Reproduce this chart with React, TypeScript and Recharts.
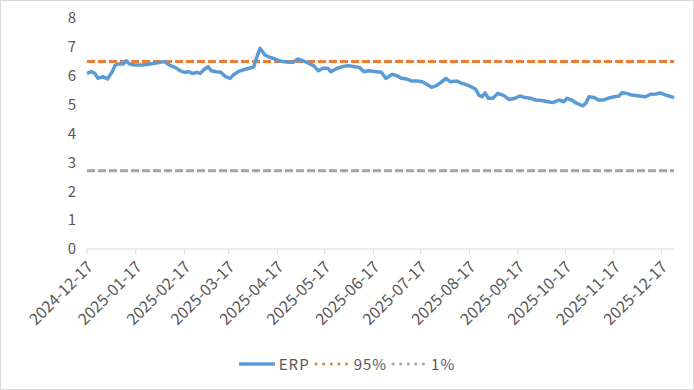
import { Line, LineChart, XAxis, YAxis } from "recharts";

// ERP readings (calendar dates)
const dates = [
  "2024-12-17", "2024-12-20", "2024-12-22", "2024-12-24", "2024-12-27", "2024-12-30",
  "2025-01-02", "2025-01-04", "2025-01-06", "2025-01-09", "2025-01-11", "2025-01-13",
  "2025-01-16", "2025-01-21", "2025-01-25", "2025-01-29", "2025-02-04", "2025-02-08",
  "2025-02-11", "2025-02-14", "2025-02-17", "2025-02-20", "2025-02-22", "2025-02-25",
  "2025-02-27", "2025-03-01", "2025-03-04", "2025-03-06", "2025-03-09", "2025-03-12",
  "2025-03-15", "2025-03-18", "2025-03-20", "2025-03-23", "2025-03-26", "2025-03-30",
  "2025-04-02", "2025-04-04", "2025-04-06", "2025-04-09", "2025-04-12", "2025-04-16",
  "2025-04-20", "2025-04-24", "2025-04-27", "2025-04-30", "2025-05-03", "2025-05-07",
  "2025-05-10", "2025-05-13", "2025-05-16", "2025-05-19", "2025-05-21", "2025-05-25",
  "2025-05-28", "2025-06-01", "2025-06-05", "2025-06-08", "2025-06-11", "2025-06-14",
  "2025-06-19", "2025-06-22", "2025-06-25", "2025-06-29", "2025-07-02", "2025-07-05",
  "2025-07-08", "2025-07-11", "2025-07-15", "2025-07-18", "2025-07-21", "2025-07-24",
  "2025-07-27", "2025-07-30", "2025-08-02", "2025-08-05", "2025-08-09", "2025-08-12",
  "2025-08-14", "2025-08-18", "2025-08-21", "2025-08-23", "2025-08-25", "2025-08-27",
  "2025-08-29", "2025-09-01", "2025-09-04", "2025-09-08", "2025-09-11", "2025-09-15",
  "2025-09-18", "2025-09-21", "2025-09-25", "2025-09-28", "2025-10-02", "2025-10-06",
  "2025-10-09", "2025-10-13", "2025-10-16", "2025-10-18", "2025-10-21", "2025-10-24",
  "2025-10-28", "2025-10-30", "2025-11-01", "2025-11-04", "2025-11-07", "2025-11-10",
  "2025-11-13", "2025-11-17", "2025-11-20", "2025-11-22", "2025-11-25", "2025-11-28",
  "2025-12-03", "2025-12-07", "2025-12-10", "2025-12-14", "2025-12-16", "2025-12-20",
  "2025-12-25",
];

const erp = [
  6.08, 6.14, 6.08, 5.91, 5.97, 5.89,
  6.14, 6.37, 6.41, 6.41, 6.52, 6.41,
  6.37, 6.37, 6.40, 6.43, 6.49, 6.35,
  6.29, 6.18, 6.12, 6.14, 6.08, 6.12,
  6.08, 6.20, 6.31, 6.17, 6.14, 6.12,
  5.97, 5.91, 6.03, 6.14, 6.20, 6.26,
  6.31, 6.66, 6.95, 6.72, 6.64, 6.57,
  6.49, 6.47, 6.47, 6.58, 6.52, 6.43,
  6.35, 6.17, 6.26, 6.26, 6.14, 6.26,
  6.31, 6.35, 6.31, 6.29, 6.14, 6.17,
  6.14, 6.12, 5.91, 6.05, 6.00, 5.91,
  5.89, 5.82, 5.82, 5.79, 5.70, 5.60,
  5.66, 5.77, 5.91, 5.79, 5.82, 5.74,
  5.71, 5.62, 5.53, 5.33, 5.27, 5.41,
  5.22, 5.22, 5.39, 5.31, 5.18, 5.22,
  5.30, 5.25, 5.22, 5.16, 5.14, 5.10,
  5.07, 5.16, 5.10, 5.22, 5.16, 5.05,
  4.96, 5.05, 5.27, 5.25, 5.16, 5.16,
  5.22, 5.27, 5.30, 5.41, 5.39, 5.33,
  5.30, 5.27, 5.36, 5.37, 5.41, 5.33,
  5.24,
];

const pct95 = 6.49;
const pct1 = 2.71;

const monthTicks = [
  "2024-12-17", "2025-01-17", "2025-02-17", "2025-03-17", "2025-04-17",
  "2025-05-17", "2025-06-17", "2025-07-17", "2025-08-17", "2025-09-17",
  "2025-10-17", "2025-11-17", "2025-12-17",
];
const yTicks = [0, 1, 2, 3, 4, 5, 6, 7, 8];

const DAY = 86400000;
const start = Date.parse(dates[0]);
const toDay = (s: string) => Math.round((Date.parse(s) - start) / DAY);
const dayToLabel = new Map(monthTicks.map((t) => [toDay(t), t]));

const data = dates.map((d, i) => ({
  day: toDay(d),
  erp: erp[i],
  p95: pct95,
  p1: pct1,
}));

const TEXT = "#595959";
const FONT = '"Noto Sans CJK SC", "Noto Sans", sans-serif';

function DateTick({ x, y, payload }: any) {
  return (
    <g transform={`translate(${x + 7},${y + 12})`}>
      <text
        x={0}
        y={0}
        textAnchor="end"
        fill={TEXT}
        fontSize={16}
        fontFamily={FONT}
        transform="rotate(-45)"
      >
        {dayToLabel.get(payload.value)}
      </text>
    </g>
  );
}

function LegendItem({ color, dotted, label }: { color: string; dotted: boolean; label: string }) {
  return (
    <div style={{ display: "flex", alignItems: "center", gap: 4 }}>
      <svg width={36} height={6}>
        {dotted ? (
          <line x1={2} y1={3} x2={34} y2={3} stroke={color} strokeWidth={3}
            strokeDasharray="0.1 7.5" strokeLinecap="round" />
        ) : (
          <line x1={0} y1={3} x2={36} y2={3} stroke={color} strokeWidth={3.5} />
        )}
      </svg>
      <span style={{ letterSpacing: 1 }}>{label}</span>
    </div>
  );
}

export default function App() {
  return (
    <div
      style={{
        position: "absolute",
        left: 0,
        top: 0,
        width: 694,
        height: 390,
        boxSizing: "border-box",
        border: "1px solid #d9d9d9",
        background: "#fff",
        fontFamily: FONT,
      }}
    >
      <LineChart
        width={692}
        height={388}
        data={data}
        margin={{ top: 17, right: 19, left: 26, bottom: 50 }}
      >
        <XAxis
          dataKey="day"
          type="number"
          domain={[0, 373]}
          ticks={monthTicks.map(toDay)}
          interval={0}
          height={90}
          stroke="#d9d9d9"
          tickSize={5}
          tickMargin={2}
          tick={<DateTick />}
        />
        <YAxis
          domain={[0, 8]}
          ticks={yTicks}
          width={60}
          axisLine={false}
          tickLine={false}
          tickSize={6}
          tickMargin={5}
          tick={{ fill: TEXT, fontSize: 15, fontFamily: FONT }}
        />
        <Line
          dataKey="p1"
          stroke="#a5a5a5"
          strokeWidth={3}
          strokeDasharray="8 3"
          dot={false}
          isAnimationActive={false}
        />
        <Line
          dataKey="p95"
          stroke="#ed7d31"
          strokeWidth={3}
          strokeDasharray="8 3"
          dot={false}
          isAnimationActive={false}
        />
        <Line
          dataKey="erp"
          stroke="#5b9bd5"
          strokeWidth={3.5}
          strokeLinejoin="round"
          dot={false}
          isAnimationActive={false}
        />
      </LineChart>
      <div
        style={{
          position: "absolute",
          left: 0,
          top: 352,
          width: 692,
          display: "flex",
          justifyContent: "center",
          gap: 4,
          fontSize: 15,
          color: TEXT,
        }}
      >
        <LegendItem color="#5b9bd5" dotted={false} label="ERP" />
        <LegendItem color="#ed7d31" dotted label="95%" />
        <LegendItem color="#a5a5a5" dotted label="1%" />
      </div>
    </div>
  );
}
